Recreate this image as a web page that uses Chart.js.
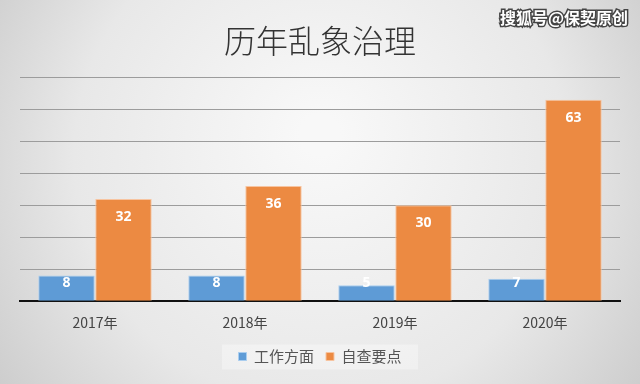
<!DOCTYPE html>
<html><head><meta charset="utf-8">
<script src="https://cdn.jsdelivr.net/npm/chart.js@4/dist/chart.umd.min.js"></script>
<style>html,body{margin:0;padding:0;background:#e6e6e6}#wrap{width:640px;height:384px}</style>
</head><body><div id="wrap"><canvas id="c" width="640" height="384"></canvas></div>
<script>
const categories = ['2017年','2018年','2019年','2020年'];
const seriesNames = ['工作方面','自查要点'];
const workValues = [8, 8, 5, 7];
const checkValues = [32, 36, 30, 63];
const titleText = '历年乱象治理';
const watermarkText = '搜狐号@保契原创';

const bgPlugin = {
  id: 'bg',
  beforeDraw(chart) {
    const ctx = chart.ctx, w = chart.width, h = chart.height;
    ctx.save();
    const g = ctx.createRadialGradient(w*0.5, h*0.35, 20, w*0.5, h*0.45, w*0.62);
    g.addColorStop(0, '#f8f8f8');
    g.addColorStop(0.6, '#e8e8e8');
    g.addColorStop(1, '#cbcbcb');
    ctx.fillStyle = g;
    ctx.fillRect(0, 0, w, h);
    const lg = chart.legend;
    if (lg && lg.legendHitBoxes && lg.legendHitBoxes.length) {
      const hb = lg.legendHitBoxes;
      const cy = hb[0].top + hb[0].height / 2;
      ctx.fillStyle = 'rgba(255,255,255,0.35)';
      ctx.fillRect(w / 2 - 98, cy - 12, 196, 25);
    }
    ctx.restore();
  },
  afterDraw(chart) {
    const ctx = chart.ctx;
    ctx.save();
    ctx.font = 'bold 16px "Noto Sans CJK SC"';
    ctx.textAlign = 'right';
    ctx.textBaseline = 'middle';
    ctx.lineWidth = 3;
    ctx.strokeStyle = '#444';
    ctx.strokeText(watermarkText, 628, 18);
    ctx.fillStyle = '#fff';
    ctx.fillText(watermarkText, 628, 18);
    ctx.restore();
  }
};

const labelPlugin = {
  id: 'barLabels',
  afterDatasetsDraw(chart) {
    const ctx = chart.ctx;
    ctx.save();
    ctx.font = 'bold 14px "Open Sans", "Noto Sans"';
    ctx.fillStyle = '#ffffff';
    ctx.textAlign = 'center';
    ctx.textBaseline = 'middle';
    chart.data.datasets.forEach((ds, i) => {
      chart.getDatasetMeta(i).data.forEach((bar, j) => {
        const y = Math.min(bar.y + 18, bar.base - 18);
        ctx.fillText(String(ds.data[j]), bar.x, y);
      });
    });
    ctx.restore();
  }
};

new Chart(document.getElementById('c'), {
  type: 'bar',
  data: {
    labels: categories,
    datasets: [
      { label: seriesNames[0], data: workValues, backgroundColor: '#5E9BD6', borderColor: '#a9cdef', borderWidth: 1 },
      { label: seriesNames[1], data: checkValues, backgroundColor: '#EC8A42', borderColor: '#f7c4a0', borderWidth: 1 }
    ]
  },
  options: {
    responsive: false,
    animation: false,
    devicePixelRatio: 1,
    layout: { padding: { left: 20, right: 20, top: 22, bottom: 10 } },
    datasets: { bar: { categoryPercentage: 0.76, barPercentage: 0.99 } },
    plugins: {
      title: {
        display: true, text: titleText, color: '#333',
        font: { family: '"Noto Sans CJK SC"', size: 32, weight: '300' },
        padding: { top: 0, bottom: 17 }
      },
      legend: {
        position: 'bottom',
        labels: {
          color: '#555', font: { family: '"Noto Sans CJK SC"', size: 15 },
          usePointStyle: true, pointStyle: 'rect', boxWidth: 8, boxHeight: 8, padding: 12
        }
      },
      tooltip: { enabled: false }
    },
    scales: {
      x: {
        grid: { display: false },
        border: { display: true, color: '#111', width: 2 },
        ticks: { color: '#444', font: { family: '"Noto Sans CJK SC"', size: 14 }, padding: 5 },
        afterFit(scale) { scale.height += 1; }
      },
      y: {
        min: 0, max: 70,
        ticks: { display: false, stepSize: 10 },
        border: { display: false },
        grid: { color: '#9c9c9c', lineWidth: 1, drawTicks: false }
      }
    }
  },
  plugins: [bgPlugin, labelPlugin]
});
</script></body></html>
